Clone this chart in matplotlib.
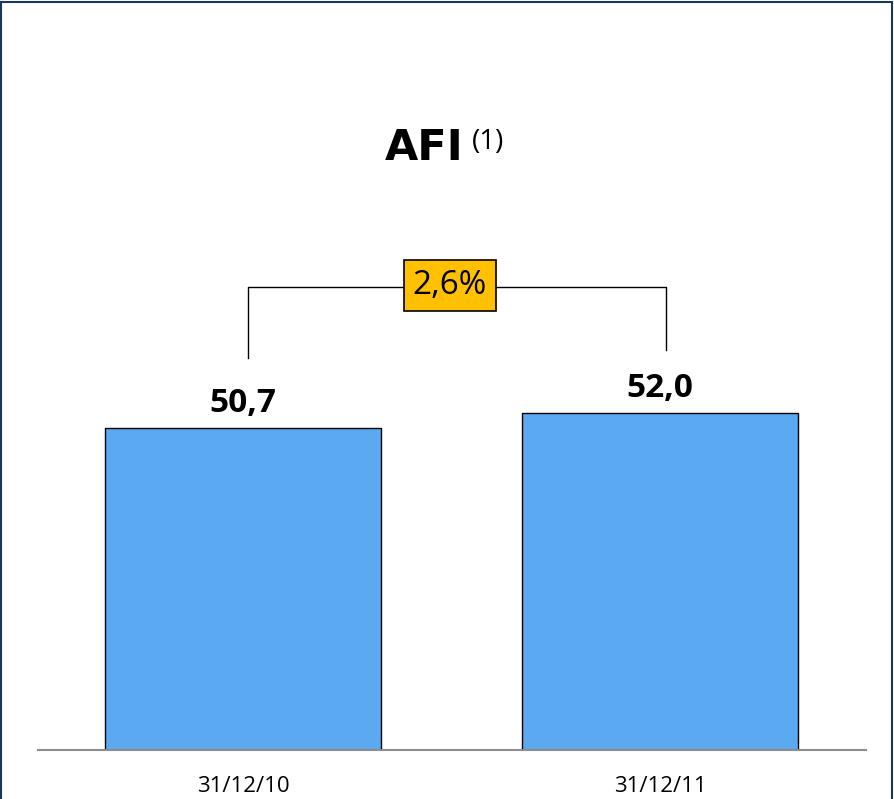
import matplotlib.pyplot as plt
from matplotlib.patches import Rectangle

# chart values
dates = ["31/12/10", "31/12/11"]
afi_values = [50.7, 52.0]
value_labels = ["50,7", "52,0"]
growth_label = "2,6%"

W, H = 895, 799
fig = plt.figure(figsize=(W / 100, H / 100), dpi=100)

# axes placed so the baseline sits at y=750px, from x=38 to x=866
ax = fig.add_axes([38 / W, (H - 750) / H, (866 - 38) / W, 750 / H])

x = list(range(len(dates)))
ax.bar(x, afi_values, width=0.662, color="#5BA9F1", edgecolor="black",
       linewidth=1.0, zorder=2)

ax.set_xlim(-0.4916, 1.494)
ax.set_ylim(22.8, 87.8)

for xi, v, lab in zip(x, afi_values, value_labels):
    ax.annotate(lab, (xi, v), xytext=(0, 6), textcoords="offset points",
                ha="center", va="bottom", fontsize=24, fontweight="bold",
                family="Open Sans")

# bracket showing growth between the two bars
top = 62.9
left_end, right_end = 56.8, 57.5
bx0, bx1 = x[0] + 0.012, x[1] + 0.014
ax.plot([bx0, bx0, bx1, bx1], [left_end, top, top, right_end],
        color="black", linewidth=1.0, zorder=1)
ax.text(0.496, top + 0.2, growth_label, ha="center", va="center",
        fontsize=24, family="Open Sans", zorder=3,
        bbox=dict(boxstyle="square,pad=0.27", facecolor="#FFC000",
                  edgecolor="black", linewidth=1.2))

ax.set_xticks(x)
ax.set_xticklabels(dates, fontsize=16, family="Open Sans")
ax.tick_params(axis="x", length=0, pad=19)
ax.set_yticks([])
for side in ["top", "right", "left"]:
    ax.spines[side].set_visible(False)
ax.spines["bottom"].set_color("#8C8C8C")
ax.spines["bottom"].set_linewidth(1.5)

# title with superscript note mark
fig.text(385 / W, 1 - 148 / H, "AFI", fontsize=31, fontweight="bold",
         ha="left", va="center")
fig.text(472 / W, 1 - 142 / H, "(1)", fontsize=20, family="Open Sans",
         ha="left", va="center")

# outer frame (open at the bottom)
fig.patches.append(Rectangle((1.5 / W, -0.05), (W - 4) / W, 1.05 - 1.5 / H,
                             transform=fig.transFigure, fill=False,
                             edgecolor="#17375E", linewidth=1.5))

fig.savefig("out.png", dpi=100)
